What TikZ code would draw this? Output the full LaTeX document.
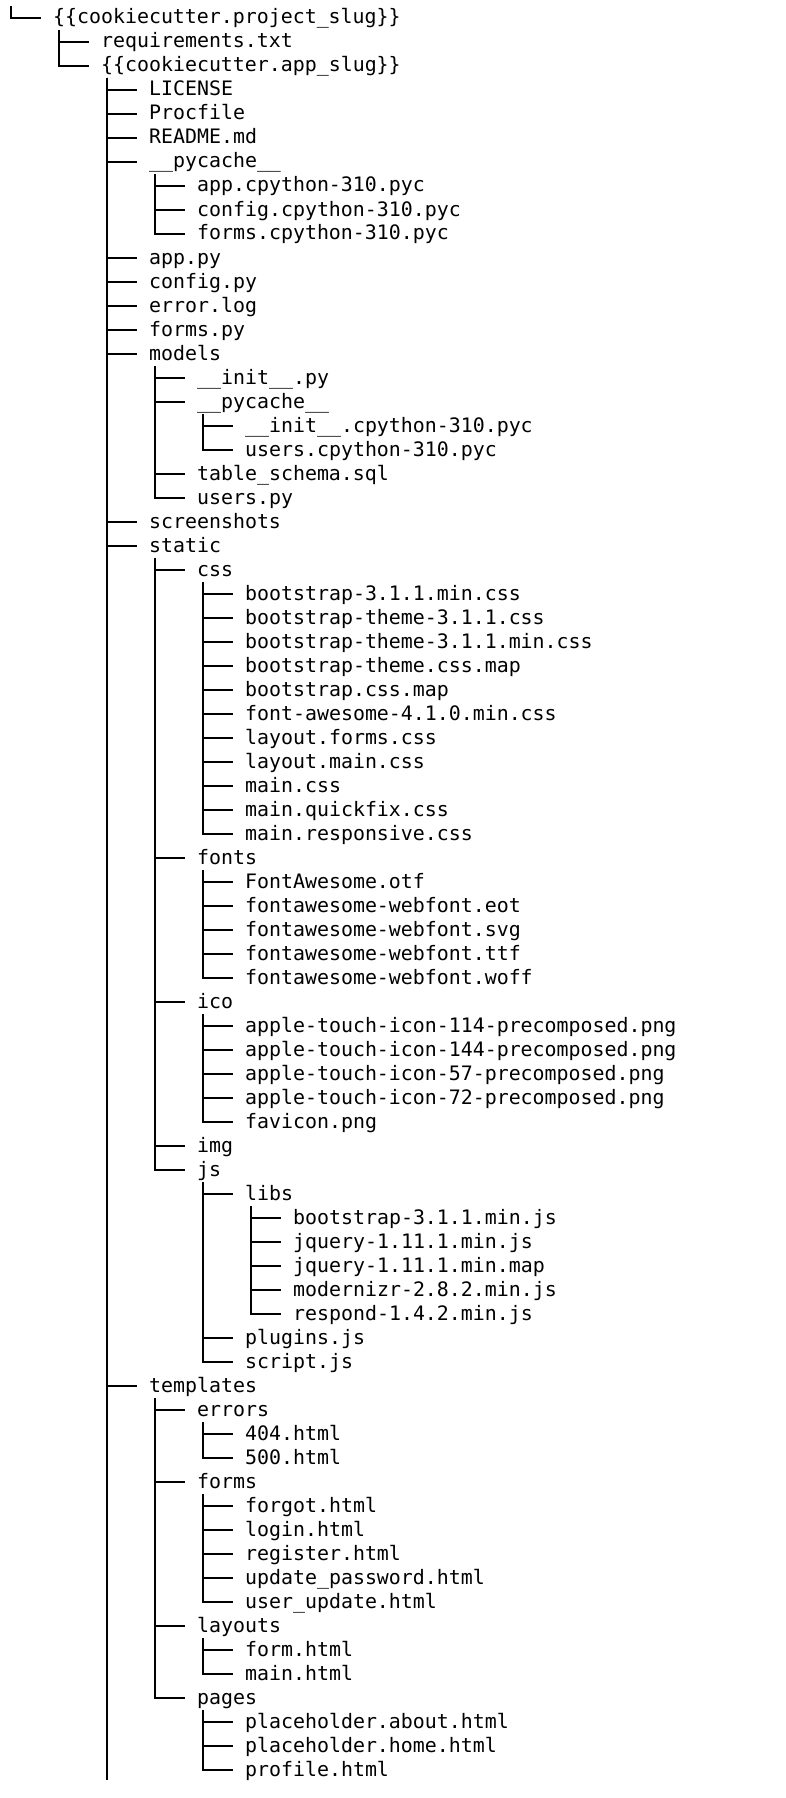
\documentclass[tikz,border=0pt]{standalone}
\usepackage{fontspec}
\newfontfamily\treefont{DejaVu Sans Mono}
\tikzset{
  entry/.style={anchor=base west, inner sep=0pt, font=\treefont\fontsize{19.9pt}{24pt}\selectfont},
  tree/.style={line width=1.4pt}
}
\begin{document}
\begin{tikzpicture}[x=1pt,y=1pt]
        \useasboundingbox (0,0) rectangle (786,-1798);
        % entries, one per row
        \node[entry] (root) at (53,-24) {\{\{cookiecutter.project\_slug\}\}};
        \node[entry] (req) at (101,-48) {requirements.txt};
        \node[entry] (app) at (101,-72) {\{\{cookiecutter.app\_slug\}\}};
        \node[entry] (lic) at (149,-96) {LICENSE};
        \node[entry] (proc) at (149,-120) {Procfile};
        \node[entry] (readme) at (149,-144) {README.md};
        \node[entry] (cache) at (149,-168) {\_\_pycache\_\_};
        \node[entry] (cacheapp) at (197,-192) {app.cpython-310.pyc};
        \node[entry] (cacheconf) at (197,-216) {config.cpython-310.pyc};
        \node[entry] (cacheforms) at (197,-240) {forms.cpython-310.pyc};
        \node[entry] (apppy) at (149,-264) {app.py};
        \node[entry] (confpy) at (149,-288) {config.py};
        \node[entry] (errlog) at (149,-312) {error.log};
        \node[entry] (formspy) at (149,-336) {forms.py};
        \node[entry] (models) at (149,-360) {models};
        \node[entry] (init) at (197,-384) {\_\_init\_\_.py};
        \node[entry] (mcache) at (197,-408) {\_\_pycache\_\_};
        \node[entry] (mcacheinit) at (245,-432) {\_\_init\_\_.cpython-310.pyc};
        \node[entry] (mcacheusers) at (245,-456) {users.cpython-310.pyc};
        \node[entry] (schema) at (197,-480) {table\_schema.sql};
        \node[entry] (userspy) at (197,-504) {users.py};
        \node[entry] (shots) at (149,-528) {screenshots};
        \node[entry] (static) at (149,-552) {static};
        \node[entry] (css) at (197,-576) {css};
        \node[entry] (css1) at (245,-600) {bootstrap-3.1.1.min.css};
        \node[entry] (css2) at (245,-624) {bootstrap-theme-3.1.1.css};
        \node[entry] (css3) at (245,-648) {bootstrap-theme-3.1.1.min.css};
        \node[entry] (css4) at (245,-672) {bootstrap-theme.css.map};
        \node[entry] (css5) at (245,-696) {bootstrap.css.map};
        \node[entry] (css6) at (245,-720) {font-awesome-4.1.0.min.css};
        \node[entry] (css7) at (245,-744) {layout.forms.css};
        \node[entry] (css8) at (245,-768) {layout.main.css};
        \node[entry] (css9) at (245,-792) {main.css};
        \node[entry] (css10) at (245,-816) {main.quickfix.css};
        \node[entry] (css11) at (245,-840) {main.responsive.css};
        \node[entry] (fonts) at (197,-864) {fonts};
        \node[entry] (font1) at (245,-888) {FontAwesome.otf};
        \node[entry] (font2) at (245,-912) {fontawesome-webfont.eot};
        \node[entry] (font3) at (245,-936) {fontawesome-webfont.svg};
        \node[entry] (font4) at (245,-960) {fontawesome-webfont.ttf};
        \node[entry] (font5) at (245,-984) {fontawesome-webfont.woff};
        \node[entry] (ico) at (197,-1008) {ico};
        \node[entry] (ico1) at (245,-1032) {apple-touch-icon-114-precomposed.png};
        \node[entry] (ico2) at (245,-1056) {apple-touch-icon-144-precomposed.png};
        \node[entry] (ico3) at (245,-1080) {apple-touch-icon-57-precomposed.png};
        \node[entry] (ico4) at (245,-1104) {apple-touch-icon-72-precomposed.png};
        \node[entry] (ico5) at (245,-1128) {favicon.png};
        \node[entry] (img) at (197,-1152) {img};
        \node[entry] (js) at (197,-1176) {js};
        \node[entry] (libs) at (245,-1200) {libs};
        \node[entry] (lib1) at (293,-1224) {bootstrap-3.1.1.min.js};
        \node[entry] (lib2) at (293,-1248) {jquery-1.11.1.min.js};
        \node[entry] (lib3) at (293,-1272) {jquery-1.11.1.min.map};
        \node[entry] (lib4) at (293,-1296) {modernizr-2.8.2.min.js};
        \node[entry] (lib5) at (293,-1320) {respond-1.4.2.min.js};
        \node[entry] (plugins) at (245,-1344) {plugins.js};
        \node[entry] (script) at (245,-1368) {script.js};
        \node[entry] (tmpl) at (149,-1392) {templates};
        \node[entry] (errors) at (197,-1416) {errors};
        \node[entry] (e404) at (245,-1440) {404.html};
        \node[entry] (e500) at (245,-1464) {500.html};
        \node[entry] (forms) at (197,-1488) {forms};
        \node[entry] (form1) at (245,-1512) {forgot.html};
        \node[entry] (form2) at (245,-1536) {login.html};
        \node[entry] (form3) at (245,-1560) {register.html};
        \node[entry] (form4) at (245,-1584) {update\_password.html};
        \node[entry] (form5) at (245,-1608) {user\_update.html};
        \node[entry] (layouts) at (197,-1632) {layouts};
        \node[entry] (lay1) at (245,-1656) {form.html};
        \node[entry] (lay2) at (245,-1680) {main.html};
        \node[entry] (pages) at (197,-1704) {pages};
        \node[entry] (page1) at (245,-1728) {placeholder.about.html};
        \node[entry] (page2) at (245,-1752) {placeholder.home.html};
        \node[entry] (page3) at (245,-1776) {profile.html};
        \coordinate (more) at (107,-1780);
        % tree lines
        \draw[tree] ([shift={(-42,18)}]root.base west) |- ([shift={(-12,6)}]root.base west);
        \foreach \c in {req,app}
            \draw[tree] ([shift={(6,-6)}]root.base west) |- ([shift={(-12,6)}]\c.base west);
        \draw[tree] ([shift={(6,-6)}]app.base west) -- (more);
        \foreach \c in {lic,proc,readme,cache,apppy,confpy,errlog,formspy,models,shots,static,tmpl}
            \draw[tree] ([shift={(6,-6)}]app.base west) |- ([shift={(-12,6)}]\c.base west);
        \foreach \c in {cacheapp,cacheconf,cacheforms}
            \draw[tree] ([shift={(6,-6)}]cache.base west) |- ([shift={(-12,6)}]\c.base west);
        \foreach \c in {init,mcache,schema,userspy}
            \draw[tree] ([shift={(6,-6)}]models.base west) |- ([shift={(-12,6)}]\c.base west);
        \foreach \c in {mcacheinit,mcacheusers}
            \draw[tree] ([shift={(6,-6)}]mcache.base west) |- ([shift={(-12,6)}]\c.base west);
        \foreach \c in {css,fonts,ico,img,js}
            \draw[tree] ([shift={(6,-6)}]static.base west) |- ([shift={(-12,6)}]\c.base west);
        \foreach \c in {css1,css2,css3,css4,css5,css6,css7,css8,css9,css10,css11}
            \draw[tree] ([shift={(6,-6)}]css.base west) |- ([shift={(-12,6)}]\c.base west);
        \foreach \c in {font1,font2,font3,font4,font5}
            \draw[tree] ([shift={(6,-6)}]fonts.base west) |- ([shift={(-12,6)}]\c.base west);
        \foreach \c in {ico1,ico2,ico3,ico4,ico5}
            \draw[tree] ([shift={(6,-6)}]ico.base west) |- ([shift={(-12,6)}]\c.base west);
        \foreach \c in {libs,plugins,script}
            \draw[tree] ([shift={(6,-6)}]js.base west) |- ([shift={(-12,6)}]\c.base west);
        \foreach \c in {lib1,lib2,lib3,lib4,lib5}
            \draw[tree] ([shift={(6,-6)}]libs.base west) |- ([shift={(-12,6)}]\c.base west);
        \foreach \c in {errors,forms,layouts,pages}
            \draw[tree] ([shift={(6,-6)}]tmpl.base west) |- ([shift={(-12,6)}]\c.base west);
        \foreach \c in {e404,e500}
            \draw[tree] ([shift={(6,-6)}]errors.base west) |- ([shift={(-12,6)}]\c.base west);
        \foreach \c in {form1,form2,form3,form4,form5}
            \draw[tree] ([shift={(6,-6)}]forms.base west) |- ([shift={(-12,6)}]\c.base west);
        \foreach \c in {lay1,lay2}
            \draw[tree] ([shift={(6,-6)}]layouts.base west) |- ([shift={(-12,6)}]\c.base west);
        \foreach \c in {page1,page2,page3}
            \draw[tree] ([shift={(6,-6)}]pages.base west) |- ([shift={(-12,6)}]\c.base west);
    \end{tikzpicture}
\end{document}
